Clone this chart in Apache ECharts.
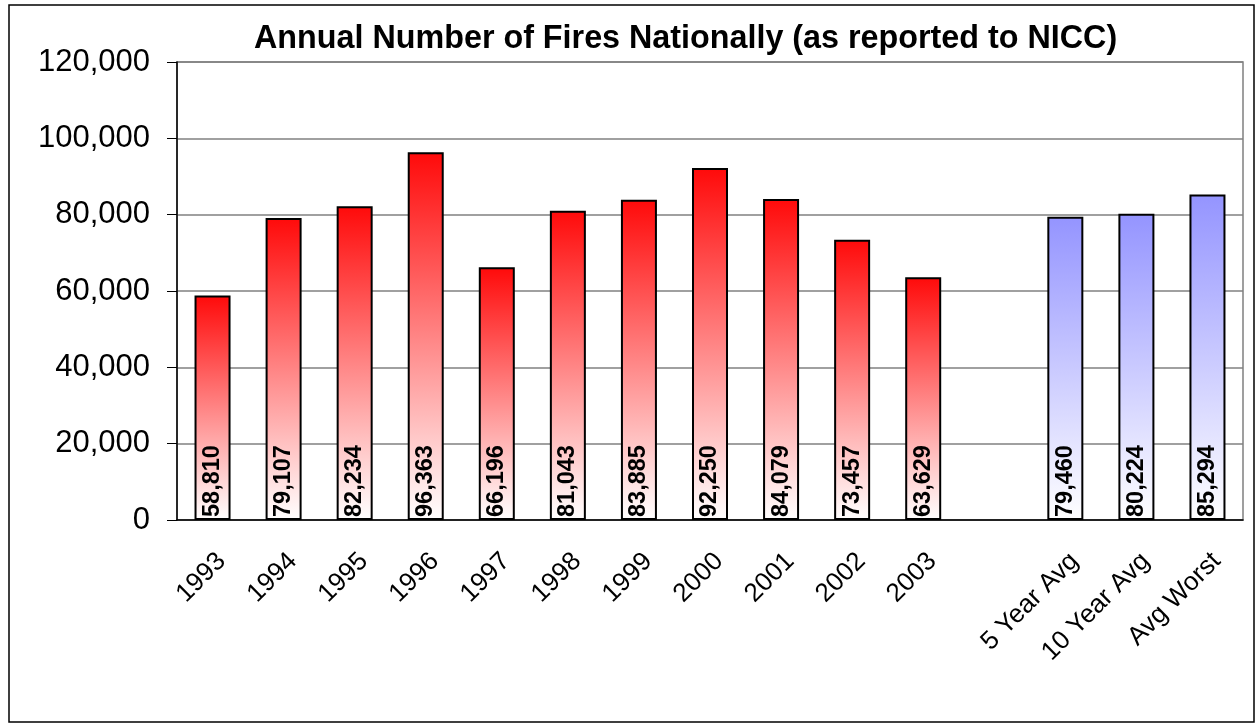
<!DOCTYPE html>
<html>

<head>
    <meta charset="UTF-8">
    <script src="https://cdn.jsdelivr.net/npm/echarts@6.0.0/dist/echarts.min.js"></script>
</head>

<body style="margin:0; background:#fff;">
    <div id="main" style="width: 1258px; height: 726px;"></div>
    <script>
        // categories and values
        var categories = ['1993', '1994', '1995', '1996', '1997', '1998', '1999', '2000', '2001', '2002', '2003', '',
            '5 Year Avg', '10 Year Avg', 'Avg Worst'];
        var fires = [58810, 79107, 82234, 96363, 66196, 81043, 83885, 92250, 84079, 73457, 63629, null,
            79460, 80224, 85294];
        var avgNames = ['5 Year Avg', '10 Year Avg', 'Avg Worst'];

        var myChart = echarts.init(document.getElementById('main'));

        function grad(top) {
            return new echarts.graphic.LinearGradient(0, 0, 0, 1, [
                { offset: 0, color: top },
                { offset: 1, color: '#ffffff' }
            ]);
        }

        var barData = fires.map(function (v, i) {
            var isAvg = avgNames.indexOf(categories[i]) >= 0;
            return {
                value: v,
                itemStyle: { color: grad(isAvg ? '#9494ff' : '#ff0a0a') }
            };
        });

        var option = {
            animation: false,
            backgroundColor: '#ffffff',
            title: {
                text: 'Annual Number of Fires Nationally (as reported to NICC)',
                left: 249,
                top: 18,
                textStyle: {
                    fontFamily: 'Liberation Sans, Arial',
                    fontWeight: 'bold',
                    fontSize: 32.3,
                    color: '#000'
                }
            },
            graphic: [{
                type: 'rect',
                shape: { x: 9, y: 5, width: 1245, height: 717 },
                style: { fill: 'none', stroke: '#000', lineWidth: 1.5 },
                silent: true
            }],
            grid: {
                left: 177,
                right: 15,
                top: 62,
                bottom: 206,
                show: true,
                borderColor: '#808080',
                borderWidth: 1.5
            },
            xAxis: {
                type: 'category',
                data: categories,
                axisLine: { lineStyle: { color: '#000', width: 1.5 } },
                axisTick: { interval: 0, length: 8, lineStyle: { color: '#555' } },
                axisLabel: {
                    interval: 0,
                    rotate: 45,
                    margin: 28,
                    verticalAlign: 'top',
                    fontFamily: 'Liberation Sans, Arial',
                    fontSize: 26,
                    color: '#000'
                }
            },
            yAxis: {
                type: 'value',
                min: 0,
                max: 120000,
                interval: 20000,
                axisLine: { show: true, lineStyle: { color: '#000', width: 1.5 } },
                axisTick: { show: true, length: 10, lineStyle: { color: '#000' } },
                splitLine: { lineStyle: { color: '#808080', width: 1.5 } },
                axisLabel: {
                    margin: 27,
                    fontFamily: 'Liberation Sans, Arial',
                    fontSize: 31,
                    color: '#000'
                }
            },
            series: [{
                type: 'bar',
                data: barData,
                barWidth: 36,
                itemStyle: {
                    borderColor: '#000',
                    borderWidth: 2
                },
                label: {
                    show: true,
                    position: 'insideBottom',
                    rotate: 90,
                    align: 'left',
                    verticalAlign: 'middle',
                    distance: 3,
                    fontFamily: 'Liberation Sans, Arial',
                    fontWeight: 'bold',
                    fontSize: 23.5,
                    color: '#000',
                    formatter: function (p) {
                        return p.value == null ? '' : echarts.format.addCommas(p.value);
                    }
                }
            }]
        };

        option && myChart.setOption(option);
    </script>
</body>

</html>
